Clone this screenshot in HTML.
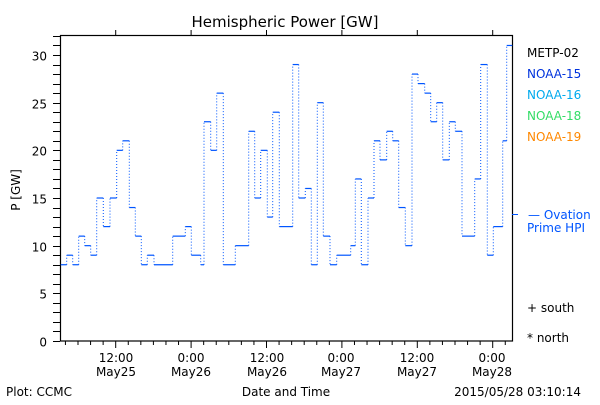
<!DOCTYPE html>
<html><head><meta charset="utf-8"><style>
body{margin:0;background:#fff}
svg text{font-family:"DejaVu Sans","Liberation Sans",sans-serif;font-size:12px}
</style></head><body>
<svg id="s" width="600" height="400" xmlns="http://www.w3.org/2000/svg">
<rect width="600" height="400" fill="#fff"/>
<text x="285" y="27" text-anchor="middle" style="font-size:15px">Hemispheric Power [GW]</text>
<rect x="60.5" y="35.5" width="452" height="305.5" fill="none" stroke="#000" stroke-width="1.2"/>
<text x="20" y="190" transform="rotate(-90 20 190)" text-anchor="middle">P [GW]</text>
<g id="yt"></g><g id="xt"></g>
<g id="d"></g>
<text x="527" y="57">METP-02</text>
<text x="527" y="78" fill="#0033dd">NOAA-15</text>
<text x="527" y="99" fill="#00aaee">NOAA-16</text>
<text x="527" y="120" fill="#33dd66">NOAA-18</text>
<text x="527" y="141" fill="#ff8800">NOAA-19</text>
<line x1="512" y1="214.5" x2="518" y2="214.5" stroke="#0055ff"/>
<text x="528" y="219" fill="#0055ff">— Ovation</text>
<text x="527" y="232" fill="#0055ff">Prime HPI</text>
<text x="527" y="312">+ south</text>
<text x="527" y="342">* north</text>
<text x="116" y="362" text-anchor="middle">12:00</text><text x="116" y="376" text-anchor="middle">May25</text>
<text x="191" y="362" text-anchor="middle">0:00</text><text x="191" y="376" text-anchor="middle">May26</text>
<text x="267" y="362" text-anchor="middle">12:00</text><text x="267" y="376" text-anchor="middle">May26</text>
<text x="341" y="362" text-anchor="middle">0:00</text><text x="341" y="376" text-anchor="middle">May27</text>
<text x="417" y="362" text-anchor="middle">12:00</text><text x="417" y="376" text-anchor="middle">May27</text>
<text x="492" y="362" text-anchor="middle">0:00</text><text x="492" y="376" text-anchor="middle">May28</text>
<text x="6" y="396">Plot: CCMC</text>
<text x="286" y="396" text-anchor="middle">Date and Time</text>
<text x="581" y="396" text-anchor="end">2015/05/28 03:10:14</text>
</svg>
<script>
var NS="http://www.w3.org/2000/svg";
function el(p,t,a){var e=document.createElementNS(NS,t);for(var k in a)e.setAttribute(k,a[k]);if(t=="text"){e.textContent=a.tx;}p.appendChild(e);return e;}
function Y(v){return 341-9.533*v;}
var yt=document.getElementById("yt");
for(var v=0;v<=32;v++){var y=Math.round(Y(v))+0.5;el(yt,"line",{x1:53,x2:60,y1:y,y2:y,stroke:"#000"});
if(v%5==0){var t=el(yt,"text",{x:47,y:y+5,"text-anchor":"end",tx:String(v)});t.textContent=String(v);}}
var xt=document.getElementById("xt");
var x0=115.7,dx=75.4/6;
for(var i=-4;i<=31;i++){var x=x0+i*dx;if(x<61||x>512)continue;var maj=(i%6==0);
el(xt,"line",{x1:x,x2:x,y1:341,y2:maj?348:345,stroke:"#000"});
if(maj)el(xt,"line",{x1:x,x2:x,y1:35,y2:30,stroke:"#000"});}
var D=[[60.7,8],[66.7,9],[72.7,8],[78.7,11],[84.7,10],[90.7,9],[96.7,15],[103.3,12],[110,15],[116.7,20],[122.7,21],[129.3,14],[135.3,11],[141.3,8],[147.3,9],[154,8],[172.7,11],[185.3,12],[191.3,9],[200.7,8],[204,23],[210.7,20],[216.7,26],[223.3,8],[235.3,10],[248.7,22],[254.7,15],[260.7,20],[267.3,13],[272.7,24],[279.3,12],[292.7,29],[298.7,15],[305.3,16],[311.3,8],[317.3,25],[323.3,11],[330,8],[336.7,9],[350.7,10],[355.3,17],[361.3,8],[368,15],[374,21],[380,19],[386.7,22],[392.7,21],[398.7,14],[405.3,10],[412,28],[418,27],[424.7,26],[430.7,23],[436.7,25],[442.7,19],[449.3,23],[455.3,22],[462,11],[474.7,17],[480.7,29],[487.3,9],[493.3,12],[502.7,21],[506.7,31],[512.3,31]];
var d=document.getElementById("d");
for(var j=0;j<D.length-1;j++){var a=D[j],b=D[j+1];
el(d,"line",{x1:a[0],x2:b[0],y1:Y(a[1]),y2:Y(a[1]),stroke:"#0055ff","stroke-width":1.2});
if(j<D.length-2&&a[1]!=b[1])el(d,"line",{x1:b[0],x2:b[0],y1:Y(a[1]),y2:Y(b[1]),stroke:"#0055ff","stroke-width":1,"stroke-dasharray":"1,2"});}
</script>
</body></html>
